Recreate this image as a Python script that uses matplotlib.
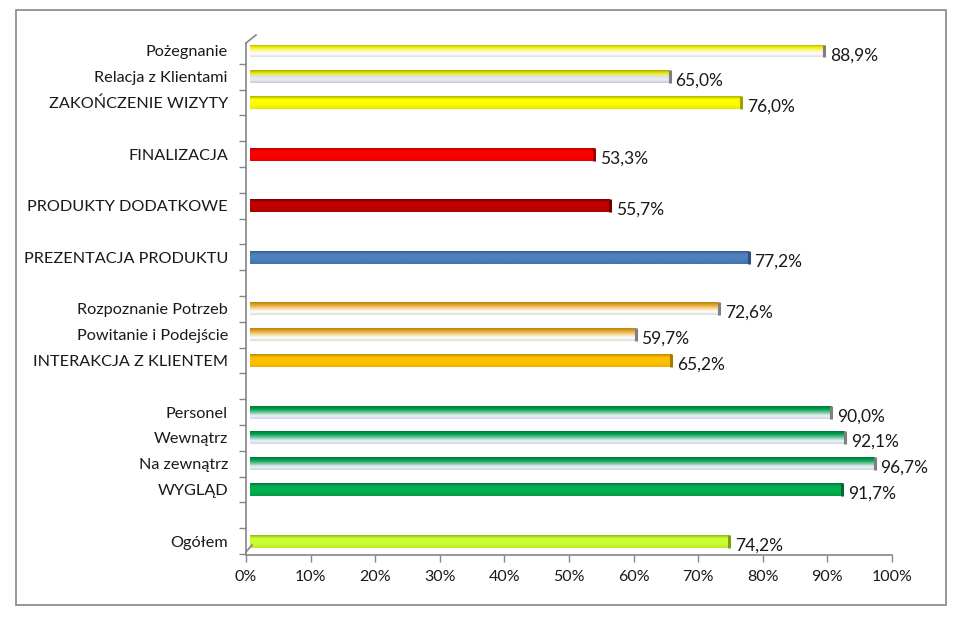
import numpy as np
import matplotlib
matplotlib.use('Agg')
import matplotlib.pyplot as plt
from matplotlib.colors import LinearSegmentedColormap
from matplotlib.patches import Rectangle
from matplotlib.lines import Line2D
import matplotlib.transforms as mtransforms

plt.rcParams['font.family'] = ['Lato', 'DejaVu Sans']

# categories bottom -> top, '' = empty slot
categories = ['Ogółem', '', 'WYGLĄD', 'Na zewnątrz', 'Wewnątrz', 'Personel', '',
              'INTERAKCJA Z KLIENTEM', 'Powitanie i Podejście', 'Rozpoznanie Potrzeb', '',
              'PREZENTACJA PRODUKTU', '', 'PRODUKTY DODATKOWE', '', 'FINALIZACJA', '',
              'ZAKOŃCZENIE WIZYTY', 'Relacja z Klientami', 'Pożegnanie']
values = [74.2, np.nan, 91.7, 96.7, 92.1, 90.0, np.nan,
          65.2, 59.7, 72.6, np.nan,
          77.2, np.nan, 55.7, np.nan, 53.3, np.nan,
          76.0, 65.0, 88.9]
xticks = [0, 10, 20, 30, 40, 50, 60, 70, 80, 90, 100]

# gradient stops top -> bottom for each bar
green_fade = ['#00773a', '#00a552', '#7cc7a0', '#eef3fa', '#c9d6ea']
orange_fade = ['#b8800c', '#eaa932', '#f6d9a0', '#ffffff', '#d9d9d9']
yellow_fade = ['#a8a800', '#f2f200', '#f8f8a0', '#ffffff', '#d9dde4']
yellow_grey = ['#a8a800', '#eeee10', '#dfe3ea', '#e9edf3', '#c3ccda']
styles = {
    'Ogółem': ['#8fb520', '#ccff33', '#ccff33', '#c8fa30', '#b9ea28'],
    'WYGLĄD': ['#00773a', '#00b050', '#00b050', '#00ad4e', '#009a45'],
    'Na zewnątrz': green_fade,
    'Wewnątrz': green_fade,
    'Personel': green_fade,
    'INTERAKCJA Z KLIENTEM': ['#b88a00', '#ffc000', '#ffc000', '#fbbd00', '#ebb000'],
    'Powitanie i Podejście': orange_fade,
    'Rozpoznanie Potrzeb': orange_fade,
    'PREZENTACJA PRODUKTU': ['#385d8a', '#4f81bd', '#4f81bd', '#4a7bb6', '#4372aa'],
    'PRODUKTY DODATKOWE': ['#7a0000', '#c00000', '#c00000', '#bb0000', '#a80000'],
    'FINALIZACJA': ['#b00000', '#ff0000', '#ff0000', '#f80000', '#e80000'],
    'ZAKOŃCZENIE WIZYTY': ['#b0b000', '#ffff00', '#ffff00', '#f8f800', '#e8e800'],
    'Relacja z Klientami': yellow_grey,
    'Pożegnanie': yellow_fade,
}
caps = {'Ogółem': '#7f9e1a', 'WYGLĄD': '#006a30', 'INTERAKCJA Z KLIENTEM': '#a67c00',
        'PREZENTACJA PRODUKTU': '#2f4f78', 'PRODUKTY DODATKOWE': '#6e0000',
        'FINALIZACJA': '#a00000', 'ZAKOŃCZENIE WIZYTY': '#a0a000'}

fig = plt.figure(figsize=(9.64, 6.23), dpi=100)
fig.patches.append(Rectangle((16 / 964, 1 - 605 / 623), 930 / 964, 595 / 623,
                             transform=fig.transFigure, fill=False,
                             edgecolor='#868686', linewidth=1.2))
ax = fig.add_axes([246 / 964, 1 - 555 / 623, 646 / 964, 512 / 623])

axis_col = '#868686'
pos = np.arange(len(categories))
h = 0.5
# 3d look: bars sit slightly right of the wall
shift = mtransforms.offset_copy(ax.transData, fig=fig, x=4, y=0, units='dots')

for y, cat, v in zip(pos, categories, values):
    if np.isnan(v):
        continue
    bar = ax.barh(y, v, height=h, color='none', edgecolor='none', transform=shift)[0]
    cmap = LinearSegmentedColormap.from_list(cat, styles[cat])
    grad = np.linspace(0, 1, 64).reshape(-1, 1)
    im = ax.imshow(grad, cmap=cmap, aspect='auto', interpolation='bilinear',
                   origin='upper', extent=[0, v, y - h / 2, y + h / 2],
                   transform=shift, zorder=2)
    im.set_clip_path(bar)
    ax.plot([v, v], [y - h / 2, y + h / 2], color=caps.get(cat, '#7f7f7f'),
            lw=2.2, transform=shift, zorder=3, solid_capstyle='butt')
    ax.annotate(f'{v:.1f}%'.replace('.', ','), (v, y), xytext=(7, -3),
                textcoords='offset points', va='center', ha='left',
                fontsize=12.5, color='#1a1a1a')

ax.set_xlim(0, 100)
ax.set_ylim(-0.54, 19.31)
ax.set_xticks(xticks)
ax.set_xticklabels([f'{t}%' for t in xticks])
ax.set_yticks(pos)
ax.set_yticklabels(categories)
ax.set_yticks(np.arange(-0.5, 19, 1.0), minor=True)
ax.tick_params(axis='y', which='major', length=0, pad=13, labelsize=11.7,
               labelcolor='#1a1a1a')
ax.tick_params(axis='y', which='minor', length=5, width=1, color=axis_col)
ax.tick_params(axis='x', length=5, width=1, color=axis_col, pad=6, labelsize=11.5,
               labelcolor='#1a1a1a')

for s in ['top', 'right']:
    ax.spines[s].set_visible(False)
for s in ['left', 'bottom']:
    ax.spines[s].set_color(axis_col)
    ax.spines[s].set_linewidth(1.2)

# small depth lines at the wall corners
ax.add_line(Line2D([0, 10 / 646], [1, 1 + 8 / 512], transform=ax.transAxes,
                   color=axis_col, lw=1.2, clip_on=False))
ax.add_line(Line2D([0, 6 / 646], [3 / 512, 10 / 512], transform=ax.transAxes,
                   color=axis_col, lw=1.2, clip_on=False))

fig.savefig('out.png', dpi=100)
